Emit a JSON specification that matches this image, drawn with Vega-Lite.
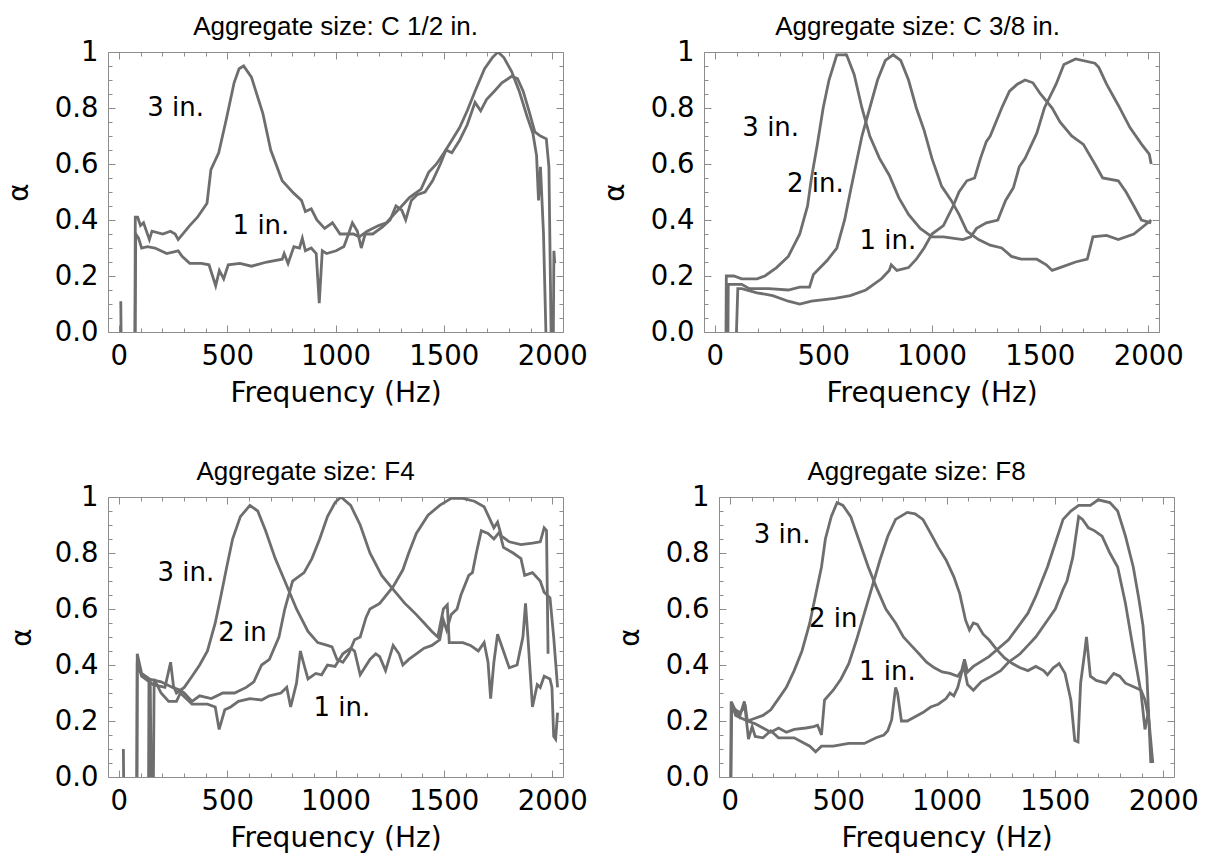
{
"$schema": "https://vega.github.io/schema/vega-lite/v6.json",
"background": "white",
"padding": {"left": 4, "top": 13, "right": 5, "bottom": 5},
"config": {
  "font": "DejaVu Sans",
  "view": {"stroke": "#8c8c8c", "strokeWidth": 1},
  "axis": {"domain": false, "grid": false, "labelFont": "DejaVu Sans", "labelFontSize": 27.5, "labelColor": "#000", "titleFont": "DejaVu Sans", "titleFontSize": 28, "titleFontWeight": "normal", "titleColor": "#000", "tickColor": "#8c8c8c", "tickWidth": 1, "labelOverlap": false, "labelFlush": false, "labelBound": false},
  "title": {"font": "Liberation Sans", "fontSize": 26, "fontWeight": "normal", "color": "#000", "anchor": "middle", "baseline": "alphabetic", "offset": -2}
},
"datasets": {
"p1": [
{"f":9,"a":0.11,"s":"1 in."},{"f":11,"a":-0.06,"s":"1 in."},{"f":75,"a":-0.06,"s":"1 in."},{"f":78,"a":0.35,"s":"1 in."},{"f":91,"a":0.335,"s":"1 in."},{"f":105,"a":0.30,"s":"1 in."},{"f":132,"a":0.305,"s":"1 in."},{"f":167,"a":0.30,"s":"1 in."},{"f":221,"a":0.28,"s":"1 in."},{"f":274,"a":0.29,"s":"1 in."},{"f":292,"a":0.27,"s":"1 in."},{"f":327,"a":0.245,"s":"1 in."},{"f":381,"a":0.245,"s":"1 in."},{"f":416,"a":0.24,"s":"1 in."},{"f":447,"a":0.165,"s":"1 in."},{"f":464,"a":0.22,"s":"1 in."},{"f":484,"a":0.19,"s":"1 in."},{"f":505,"a":0.24,"s":"1 in."},{"f":559,"a":0.245,"s":"1 in."},{"f":612,"a":0.235,"s":"1 in."},{"f":683,"a":0.25,"s":"1 in."},{"f":754,"a":0.26,"s":"1 in."},{"f":763,"a":0.28,"s":"1 in."},{"f":781,"a":0.245,"s":"1 in."},{"f":808,"a":0.305,"s":"1 in."},{"f":834,"a":0.30,"s":"1 in."},{"f":847,"a":0.335,"s":"1 in."},{"f":861,"a":0.29,"s":"1 in."},{"f":888,"a":0.30,"s":"1 in."},{"f":911,"a":0.28,"s":"1 in."},{"f":925,"a":0.103,"s":"1 in."},{"f":939,"a":0.29,"s":"1 in."},{"f":959,"a":0.28,"s":"1 in."},{"f":1003,"a":0.29,"s":"1 in."},{"f":1039,"a":0.305,"s":"1 in."},{"f":1060,"a":0.35,"s":"1 in."},{"f":1078,"a":0.39,"s":"1 in."},{"f":1101,"a":0.36,"s":"1 in."},{"f":1119,"a":0.30,"s":"1 in."},{"f":1137,"a":0.35,"s":"1 in."},{"f":1172,"a":0.35,"s":"1 in."},{"f":1217,"a":0.375,"s":"1 in."},{"f":1252,"a":0.40,"s":"1 in."},{"f":1279,"a":0.45,"s":"1 in."},{"f":1306,"a":0.435,"s":"1 in."},{"f":1324,"a":0.40,"s":"1 in."},{"f":1350,"a":0.47,"s":"1 in."},{"f":1377,"a":0.49,"s":"1 in."},{"f":1413,"a":0.50,"s":"1 in."},{"f":1448,"a":0.54,"s":"1 in."},{"f":1484,"a":0.60,"s":"1 in."},{"f":1510,"a":0.65,"s":"1 in."},{"f":1537,"a":0.64,"s":"1 in."},{"f":1573,"a":0.685,"s":"1 in."},{"f":1608,"a":0.74,"s":"1 in."},{"f":1644,"a":0.82,"s":"1 in."},{"f":1670,"a":0.79,"s":"1 in."},{"f":1697,"a":0.83,"s":"1 in."},{"f":1733,"a":0.86,"s":"1 in."},{"f":1768,"a":0.89,"s":"1 in."},{"f":1813,"a":0.913,"s":"1 in."},{"f":1840,"a":0.905,"s":"1 in."},{"f":1866,"a":0.86,"s":"1 in."},{"f":1893,"a":0.79,"s":"1 in."},{"f":1920,"a":0.715,"s":"1 in."},{"f":1946,"a":0.70,"s":"1 in."},{"f":1973,"a":0.69,"s":"1 in."},{"f":1985,"a":0.59,"s":"1 in."},{"f":1996,"a":-0.06,"s":"1 in."},{"f":2005,"a":-0.06,"s":"1 in."},{"f":2008,"a":0.29,"s":"1 in."},{"f":2012,"a":0.245,"s":"1 in."},
{"f":74,"a":-0.06,"s":"3 in."},{"f":76,"a":0.41,"s":"3 in."},{"f":87,"a":0.41,"s":"3 in."},{"f":100,"a":0.38,"s":"3 in."},{"f":114,"a":0.39,"s":"3 in."},{"f":141,"a":0.33,"s":"3 in."},{"f":153,"a":0.36,"s":"3 in."},{"f":203,"a":0.35,"s":"3 in."},{"f":238,"a":0.36,"s":"3 in."},{"f":260,"a":0.35,"s":"3 in."},{"f":274,"a":0.33,"s":"3 in."},{"f":327,"a":0.38,"s":"3 in."},{"f":363,"a":0.41,"s":"3 in."},{"f":407,"a":0.46,"s":"3 in."},{"f":425,"a":0.58,"s":"3 in."},{"f":461,"a":0.64,"s":"3 in."},{"f":496,"a":0.76,"s":"3 in."},{"f":532,"a":0.89,"s":"3 in."},{"f":555,"a":0.94,"s":"3 in."},{"f":576,"a":0.95,"s":"3 in."},{"f":612,"a":0.91,"s":"3 in."},{"f":665,"a":0.78,"s":"3 in."},{"f":701,"a":0.65,"s":"3 in."},{"f":754,"a":0.54,"s":"3 in."},{"f":808,"a":0.495,"s":"3 in."},{"f":843,"a":0.47,"s":"3 in."},{"f":861,"a":0.43,"s":"3 in."},{"f":888,"a":0.44,"s":"3 in."},{"f":914,"a":0.40,"s":"3 in."},{"f":950,"a":0.37,"s":"3 in."},{"f":986,"a":0.39,"s":"3 in."},{"f":1021,"a":0.35,"s":"3 in."},{"f":1048,"a":0.35,"s":"3 in."},{"f":1083,"a":0.35,"s":"3 in."},{"f":1110,"a":0.34,"s":"3 in."},{"f":1146,"a":0.36,"s":"3 in."},{"f":1199,"a":0.38,"s":"3 in."},{"f":1235,"a":0.39,"s":"3 in."},{"f":1270,"a":0.42,"s":"3 in."},{"f":1306,"a":0.45,"s":"3 in."},{"f":1341,"a":0.48,"s":"3 in."},{"f":1395,"a":0.51,"s":"3 in."},{"f":1430,"a":0.57,"s":"3 in."},{"f":1466,"a":0.60,"s":"3 in."},{"f":1501,"a":0.64,"s":"3 in."},{"f":1537,"a":0.685,"s":"3 in."},{"f":1573,"a":0.73,"s":"3 in."},{"f":1608,"a":0.79,"s":"3 in."},{"f":1644,"a":0.86,"s":"3 in."},{"f":1688,"a":0.94,"s":"3 in."},{"f":1724,"a":0.98,"s":"3 in."},{"f":1750,"a":1.0,"s":"3 in."},{"f":1777,"a":0.98,"s":"3 in."},{"f":1813,"a":0.93,"s":"3 in."},{"f":1848,"a":0.86,"s":"3 in."},{"f":1884,"a":0.77,"s":"3 in."},{"f":1911,"a":0.71,"s":"3 in."},{"f":1928,"a":0.63,"s":"3 in."},{"f":1937,"a":0.47,"s":"3 in."},{"f":1946,"a":0.59,"s":"3 in."},{"f":1960,"a":0.35,"s":"3 in."},{"f":1973,"a":-0.06,"s":"3 in."}
],
"p1lab": [{"f":262,"a":0.80,"t":"3 in."},{"f":656,"a":0.38,"t":"1 in."}],
"p2": [
{"f":51,"a":-0.07,"s":"3 in."},{"f":53,"a":0.20,"s":"3 in."},{"f":88,"a":0.20,"s":"3 in."},{"f":124,"a":0.19,"s":"3 in."},{"f":195,"a":0.19,"s":"3 in."},{"f":231,"a":0.20,"s":"3 in."},{"f":285,"a":0.23,"s":"3 in."},{"f":339,"a":0.27,"s":"3 in."},{"f":392,"a":0.35,"s":"3 in."},{"f":428,"a":0.45,"s":"3 in."},{"f":446,"a":0.55,"s":"3 in."},{"f":473,"a":0.67,"s":"3 in."},{"f":500,"a":0.80,"s":"3 in."},{"f":527,"a":0.90,"s":"3 in."},{"f":563,"a":0.99,"s":"3 in."},{"f":608,"a":0.99,"s":"3 in."},{"f":643,"a":0.92,"s":"3 in."},{"f":679,"a":0.80,"s":"3 in."},{"f":715,"a":0.70,"s":"3 in."},{"f":760,"a":0.62,"s":"3 in."},{"f":805,"a":0.56,"s":"3 in."},{"f":849,"a":0.48,"s":"3 in."},{"f":894,"a":0.42,"s":"3 in."},{"f":948,"a":0.37,"s":"3 in."},{"f":1002,"a":0.34,"s":"3 in."},{"f":1055,"a":0.34,"s":"3 in."},{"f":1145,"a":0.33,"s":"3 in."},{"f":1181,"a":0.34,"s":"3 in."},{"f":1208,"a":0.37,"s":"3 in."},{"f":1253,"a":0.39,"s":"3 in."},{"f":1306,"a":0.40,"s":"3 in."},{"f":1342,"a":0.47,"s":"3 in."},{"f":1378,"a":0.515,"s":"3 in."},{"f":1405,"a":0.59,"s":"3 in."},{"f":1432,"a":0.62,"s":"3 in."},{"f":1486,"a":0.71,"s":"3 in."},{"f":1521,"a":0.80,"s":"3 in."},{"f":1575,"a":0.885,"s":"3 in."},{"f":1611,"a":0.955,"s":"3 in."},{"f":1665,"a":0.975,"s":"3 in."},{"f":1754,"a":0.96,"s":"3 in."},{"f":1772,"a":0.945,"s":"3 in."},{"f":1808,"a":0.885,"s":"3 in."},{"f":1862,"a":0.81,"s":"3 in."},{"f":1916,"a":0.73,"s":"3 in."},{"f":1970,"a":0.67,"s":"3 in."},{"f":2005,"a":0.635,"s":"3 in."},{"f":2014,"a":0.60,"s":"3 in."},
{"f":60,"a":-0.07,"s":"2 in."},{"f":62,"a":0.17,"s":"2 in."},{"f":124,"a":0.17,"s":"2 in."},{"f":159,"a":0.155,"s":"2 in."},{"f":249,"a":0.155,"s":"2 in."},{"f":339,"a":0.15,"s":"2 in."},{"f":392,"a":0.16,"s":"2 in."},{"f":437,"a":0.16,"s":"2 in."},{"f":455,"a":0.205,"s":"2 in."},{"f":518,"a":0.255,"s":"2 in."},{"f":563,"a":0.30,"s":"2 in."},{"f":599,"a":0.40,"s":"2 in."},{"f":625,"a":0.50,"s":"2 in."},{"f":652,"a":0.60,"s":"2 in."},{"f":679,"a":0.70,"s":"2 in."},{"f":715,"a":0.80,"s":"2 in."},{"f":751,"a":0.90,"s":"2 in."},{"f":787,"a":0.97,"s":"2 in."},{"f":823,"a":0.99,"s":"2 in."},{"f":858,"a":0.97,"s":"2 in."},{"f":894,"a":0.90,"s":"2 in."},{"f":930,"a":0.80,"s":"2 in."},{"f":966,"a":0.72,"s":"2 in."},{"f":1002,"a":0.62,"s":"2 in."},{"f":1047,"a":0.52,"s":"2 in."},{"f":1091,"a":0.47,"s":"2 in."},{"f":1127,"a":0.42,"s":"2 in."},{"f":1163,"a":0.36,"s":"2 in."},{"f":1217,"a":0.33,"s":"2 in."},{"f":1271,"a":0.31,"s":"2 in."},{"f":1324,"a":0.30,"s":"2 in."},{"f":1369,"a":0.27,"s":"2 in."},{"f":1414,"a":0.26,"s":"2 in."},{"f":1486,"a":0.26,"s":"2 in."},{"f":1530,"a":0.24,"s":"2 in."},{"f":1557,"a":0.22,"s":"2 in."},{"f":1593,"a":0.23,"s":"2 in."},{"f":1665,"a":0.25,"s":"2 in."},{"f":1719,"a":0.26,"s":"2 in."},{"f":1745,"a":0.34,"s":"2 in."},{"f":1808,"a":0.345,"s":"2 in."},{"f":1862,"a":0.33,"s":"2 in."},{"f":1934,"a":0.35,"s":"2 in."},{"f":2014,"a":0.40,"s":"2 in."},
{"f":97,"a":-0.07,"s":"1 in."},{"f":106,"a":0.155,"s":"1 in."},{"f":124,"a":0.155,"s":"1 in."},{"f":195,"a":0.14,"s":"1 in."},{"f":267,"a":0.13,"s":"1 in."},{"f":339,"a":0.11,"s":"1 in."},{"f":392,"a":0.10,"s":"1 in."},{"f":446,"a":0.11,"s":"1 in."},{"f":554,"a":0.12,"s":"1 in."},{"f":625,"a":0.13,"s":"1 in."},{"f":697,"a":0.15,"s":"1 in."},{"f":733,"a":0.17,"s":"1 in."},{"f":769,"a":0.19,"s":"1 in."},{"f":805,"a":0.22,"s":"1 in."},{"f":814,"a":0.24,"s":"1 in."},{"f":840,"a":0.22,"s":"1 in."},{"f":894,"a":0.23,"s":"1 in."},{"f":930,"a":0.26,"s":"1 in."},{"f":966,"a":0.30,"s":"1 in."},{"f":1002,"a":0.35,"s":"1 in."},{"f":1055,"a":0.38,"s":"1 in."},{"f":1100,"a":0.45,"s":"1 in."},{"f":1127,"a":0.50,"s":"1 in."},{"f":1163,"a":0.54,"s":"1 in."},{"f":1199,"a":0.55,"s":"1 in."},{"f":1226,"a":0.62,"s":"1 in."},{"f":1253,"a":0.68,"s":"1 in."},{"f":1271,"a":0.70,"s":"1 in."},{"f":1324,"a":0.80,"s":"1 in."},{"f":1360,"a":0.86,"s":"1 in."},{"f":1396,"a":0.885,"s":"1 in."},{"f":1432,"a":0.90,"s":"1 in."},{"f":1468,"a":0.89,"s":"1 in."},{"f":1503,"a":0.85,"s":"1 in."},{"f":1557,"a":0.80,"s":"1 in."},{"f":1593,"a":0.75,"s":"1 in."},{"f":1647,"a":0.70,"s":"1 in."},{"f":1701,"a":0.67,"s":"1 in."},{"f":1754,"a":0.60,"s":"1 in."},{"f":1790,"a":0.55,"s":"1 in."},{"f":1862,"a":0.54,"s":"1 in."},{"f":1898,"a":0.50,"s":"1 in."},{"f":1934,"a":0.45,"s":"1 in."},{"f":1969,"a":0.40,"s":"1 in."},{"f":2014,"a":0.39,"s":"1 in."}
],
"p2lab": [{"f":258,"a":0.73,"t":"3 in."},{"f":464,"a":0.53,"t":"2 in."},{"f":799,"a":0.325,"t":"1 in."}],
"p3": [
{"f":83,"a":-0.07,"s":"3 in."},{"f":85,"a":0.41,"s":"3 in."},{"f":105,"a":0.36,"s":"3 in."},{"f":159,"a":0.33,"s":"3 in."},{"f":213,"a":0.32,"s":"3 in."},{"f":239,"a":0.41,"s":"3 in."},{"f":252,"a":0.325,"s":"3 in."},{"f":266,"a":0.30,"s":"3 in."},{"f":302,"a":0.32,"s":"3 in."},{"f":338,"a":0.36,"s":"3 in."},{"f":373,"a":0.40,"s":"3 in."},{"f":409,"a":0.45,"s":"3 in."},{"f":445,"a":0.55,"s":"3 in."},{"f":472,"a":0.65,"s":"3 in."},{"f":498,"a":0.75,"s":"3 in."},{"f":525,"a":0.85,"s":"3 in."},{"f":561,"a":0.93,"s":"3 in."},{"f":605,"a":0.97,"s":"3 in."},{"f":641,"a":0.95,"s":"3 in."},{"f":677,"a":0.88,"s":"3 in."},{"f":722,"a":0.78,"s":"3 in."},{"f":766,"a":0.70,"s":"3 in."},{"f":820,"a":0.60,"s":"3 in."},{"f":873,"a":0.52,"s":"3 in."},{"f":918,"a":0.48,"s":"3 in."},{"f":963,"a":0.47,"s":"3 in."},{"f":984,"a":0.465,"s":"3 in."},{"f":1007,"a":0.42,"s":"3 in."},{"f":1034,"a":0.41,"s":"3 in."},{"f":1061,"a":0.44,"s":"3 in."},{"f":1088,"a":0.49,"s":"3 in."},{"f":1114,"a":0.50,"s":"3 in."},{"f":1141,"a":0.57,"s":"3 in."},{"f":1159,"a":0.60,"s":"3 in."},{"f":1204,"a":0.62,"s":"3 in."},{"f":1266,"a":0.68,"s":"3 in."},{"f":1311,"a":0.74,"s":"3 in."},{"f":1338,"a":0.80,"s":"3 in."},{"f":1373,"a":0.87,"s":"3 in."},{"f":1427,"a":0.935,"s":"3 in."},{"f":1481,"a":0.97,"s":"3 in."},{"f":1534,"a":0.995,"s":"3 in."},{"f":1588,"a":0.995,"s":"3 in."},{"f":1641,"a":0.985,"s":"3 in."},{"f":1686,"a":0.965,"s":"3 in."},{"f":1713,"a":0.92,"s":"3 in."},{"f":1731,"a":0.89,"s":"3 in."},{"f":1748,"a":0.91,"s":"3 in."},{"f":1766,"a":0.86,"s":"3 in."},{"f":1802,"a":0.84,"s":"3 in."},{"f":1856,"a":0.83,"s":"3 in."},{"f":1909,"a":0.835,"s":"3 in."},{"f":1945,"a":0.84,"s":"3 in."},{"f":1963,"a":0.89,"s":"3 in."},{"f":1974,"a":0.88,"s":"3 in."},{"f":1981,"a":0.44,"s":"3 in."},
{"f":83,"a":-0.07,"s":"2 in."},{"f":85,"a":0.44,"s":"2 in."},{"f":105,"a":0.37,"s":"2 in."},{"f":141,"a":0.35,"s":"2 in."},{"f":195,"a":0.34,"s":"2 in."},{"f":248,"a":0.32,"s":"2 in."},{"f":284,"a":0.31,"s":"2 in."},{"f":302,"a":0.30,"s":"2 in."},{"f":338,"a":0.27,"s":"2 in."},{"f":373,"a":0.29,"s":"2 in."},{"f":427,"a":0.28,"s":"2 in."},{"f":480,"a":0.30,"s":"2 in."},{"f":534,"a":0.30,"s":"2 in."},{"f":588,"a":0.32,"s":"2 in."},{"f":623,"a":0.34,"s":"2 in."},{"f":659,"a":0.40,"s":"2 in."},{"f":695,"a":0.42,"s":"2 in."},{"f":739,"a":0.50,"s":"2 in."},{"f":766,"a":0.60,"s":"2 in."},{"f":802,"a":0.70,"s":"2 in."},{"f":855,"a":0.73,"s":"2 in."},{"f":891,"a":0.78,"s":"2 in."},{"f":927,"a":0.85,"s":"2 in."},{"f":963,"a":0.93,"s":"2 in."},{"f":998,"a":0.98,"s":"2 in."},{"f":1025,"a":1.0,"s":"2 in."},{"f":1070,"a":0.97,"s":"2 in."},{"f":1114,"a":0.90,"s":"2 in."},{"f":1159,"a":0.80,"s":"2 in."},{"f":1213,"a":0.72,"s":"2 in."},{"f":1266,"a":0.67,"s":"2 in."},{"f":1320,"a":0.62,"s":"2 in."},{"f":1347,"a":0.60,"s":"2 in."},{"f":1373,"a":0.58,"s":"2 in."},{"f":1409,"a":0.55,"s":"2 in."},{"f":1445,"a":0.52,"s":"2 in."},{"f":1472,"a":0.50,"s":"2 in."},{"f":1498,"a":0.60,"s":"2 in."},{"f":1516,"a":0.615,"s":"2 in."},{"f":1525,"a":0.48,"s":"2 in."},{"f":1588,"a":0.48,"s":"2 in."},{"f":1623,"a":0.47,"s":"2 in."},{"f":1659,"a":0.45,"s":"2 in."},{"f":1686,"a":0.48,"s":"2 in."},{"f":1704,"a":0.41,"s":"2 in."},{"f":1716,"a":0.28,"s":"2 in."},{"f":1731,"a":0.41,"s":"2 in."},{"f":1748,"a":0.51,"s":"2 in."},{"f":1775,"a":0.45,"s":"2 in."},{"f":1802,"a":0.39,"s":"2 in."},{"f":1838,"a":0.40,"s":"2 in."},{"f":1865,"a":0.50,"s":"2 in."},{"f":1877,"a":0.62,"s":"2 in."},{"f":1888,"a":0.50,"s":"2 in."},{"f":1909,"a":0.25,"s":"2 in."},{"f":1931,"a":0.33,"s":"2 in."},{"f":1945,"a":0.32,"s":"2 in."},{"f":1963,"a":0.36,"s":"2 in."},{"f":1990,"a":0.35,"s":"2 in."},{"f":1999,"a":0.32,"s":"2 in."},{"f":2007,"a":0.145,"s":"2 in."},{"f":2016,"a":0.135,"s":"2 in."},{"f":2025,"a":0.23,"s":"2 in."},
{"f":21,"a":0.10,"s":"1 in."},{"f":23,"a":-0.07,"s":"1 in."},{"f":137,"a":-0.07,"s":"1 in."},{"f":139,"a":0.35,"s":"1 in."},{"f":145,"a":0.34,"s":"1 in."},{"f":150,"a":-0.07,"s":"1 in."},{"f":159,"a":-0.07,"s":"1 in."},{"f":163,"a":0.35,"s":"1 in."},{"f":195,"a":0.30,"s":"1 in."},{"f":230,"a":0.27,"s":"1 in."},{"f":266,"a":0.27,"s":"1 in."},{"f":284,"a":0.30,"s":"1 in."},{"f":338,"a":0.26,"s":"1 in."},{"f":409,"a":0.26,"s":"1 in."},{"f":445,"a":0.25,"s":"1 in."},{"f":463,"a":0.17,"s":"1 in."},{"f":489,"a":0.24,"s":"1 in."},{"f":516,"a":0.25,"s":"1 in."},{"f":552,"a":0.27,"s":"1 in."},{"f":605,"a":0.28,"s":"1 in."},{"f":659,"a":0.275,"s":"1 in."},{"f":695,"a":0.29,"s":"1 in."},{"f":748,"a":0.30,"s":"1 in."},{"f":775,"a":0.32,"s":"1 in."},{"f":793,"a":0.25,"s":"1 in."},{"f":820,"a":0.335,"s":"1 in."},{"f":838,"a":0.45,"s":"1 in."},{"f":855,"a":0.40,"s":"1 in."},{"f":873,"a":0.35,"s":"1 in."},{"f":909,"a":0.37,"s":"1 in."},{"f":936,"a":0.365,"s":"1 in."},{"f":963,"a":0.40,"s":"1 in."},{"f":998,"a":0.395,"s":"1 in."},{"f":1034,"a":0.44,"s":"1 in."},{"f":1070,"a":0.46,"s":"1 in."},{"f":1088,"a":0.45,"s":"1 in."},{"f":1114,"a":0.365,"s":"1 in."},{"f":1159,"a":0.42,"s":"1 in."},{"f":1186,"a":0.44,"s":"1 in."},{"f":1204,"a":0.43,"s":"1 in."},{"f":1231,"a":0.38,"s":"1 in."},{"f":1266,"a":0.47,"s":"1 in."},{"f":1293,"a":0.44,"s":"1 in."},{"f":1311,"a":0.40,"s":"1 in."},{"f":1338,"a":0.42,"s":"1 in."},{"f":1373,"a":0.44,"s":"1 in."},{"f":1409,"a":0.46,"s":"1 in."},{"f":1445,"a":0.47,"s":"1 in."},{"f":1481,"a":0.49,"s":"1 in."},{"f":1498,"a":0.56,"s":"1 in."},{"f":1513,"a":0.525,"s":"1 in."},{"f":1534,"a":0.58,"s":"1 in."},{"f":1561,"a":0.60,"s":"1 in."},{"f":1579,"a":0.65,"s":"1 in."},{"f":1615,"a":0.72,"s":"1 in."},{"f":1632,"a":0.73,"s":"1 in."},{"f":1650,"a":0.80,"s":"1 in."},{"f":1673,"a":0.88,"s":"1 in."},{"f":1704,"a":0.87,"s":"1 in."},{"f":1731,"a":0.85,"s":"1 in."},{"f":1757,"a":0.875,"s":"1 in."},{"f":1775,"a":0.82,"s":"1 in."},{"f":1820,"a":0.80,"s":"1 in."},{"f":1856,"a":0.78,"s":"1 in."},{"f":1873,"a":0.72,"s":"1 in."},{"f":1909,"a":0.73,"s":"1 in."},{"f":1945,"a":0.70,"s":"1 in."},{"f":1963,"a":0.66,"s":"1 in."},{"f":1990,"a":0.64,"s":"1 in."},{"f":2007,"a":0.50,"s":"1 in."},{"f":2025,"a":0.32,"s":"1 in."}
],
"p3lab": [{"f":309,"a":0.727,"t":"3 in."},{"f":571,"a":0.514,"t":"2 in"},{"f":1029,"a":0.247,"t":"1 in."}],
"p4": [
{"f":4,"a":-0.06,"s":"3 in."},{"f":6,"a":0.27,"s":"3 in."},{"f":18,"a":0.24,"s":"3 in."},{"f":27,"a":0.22,"s":"3 in."},{"f":81,"a":0.20,"s":"3 in."},{"f":117,"a":0.21,"s":"3 in."},{"f":153,"a":0.22,"s":"3 in."},{"f":189,"a":0.24,"s":"3 in."},{"f":225,"a":0.28,"s":"3 in."},{"f":261,"a":0.32,"s":"3 in."},{"f":297,"a":0.38,"s":"3 in."},{"f":333,"a":0.45,"s":"3 in."},{"f":369,"a":0.55,"s":"3 in."},{"f":396,"a":0.65,"s":"3 in."},{"f":423,"a":0.75,"s":"3 in."},{"f":441,"a":0.85,"s":"3 in."},{"f":468,"a":0.93,"s":"3 in."},{"f":495,"a":0.98,"s":"3 in."},{"f":522,"a":0.97,"s":"3 in."},{"f":558,"a":0.93,"s":"3 in."},{"f":594,"a":0.85,"s":"3 in."},{"f":639,"a":0.75,"s":"3 in."},{"f":675,"a":0.68,"s":"3 in."},{"f":720,"a":0.60,"s":"3 in."},{"f":765,"a":0.55,"s":"3 in."},{"f":801,"a":0.50,"s":"3 in."},{"f":837,"a":0.47,"s":"3 in."},{"f":873,"a":0.44,"s":"3 in."},{"f":908,"a":0.41,"s":"3 in."},{"f":944,"a":0.39,"s":"3 in."},{"f":980,"a":0.375,"s":"3 in."},{"f":1016,"a":0.37,"s":"3 in."},{"f":1052,"a":0.36,"s":"3 in."},{"f":1070,"a":0.38,"s":"3 in."},{"f":1083,"a":0.42,"s":"3 in."},{"f":1097,"a":0.375,"s":"3 in."},{"f":1124,"a":0.395,"s":"3 in."},{"f":1196,"a":0.43,"s":"3 in."},{"f":1286,"a":0.49,"s":"3 in."},{"f":1376,"a":0.585,"s":"3 in."},{"f":1412,"a":0.645,"s":"3 in."},{"f":1466,"a":0.75,"s":"3 in."},{"f":1502,"a":0.835,"s":"3 in."},{"f":1538,"a":0.92,"s":"3 in."},{"f":1574,"a":0.95,"s":"3 in."},{"f":1610,"a":0.97,"s":"3 in."},{"f":1664,"a":0.97,"s":"3 in."},{"f":1700,"a":0.99,"s":"3 in."},{"f":1754,"a":0.98,"s":"3 in."},{"f":1790,"a":0.95,"s":"3 in."},{"f":1826,"a":0.86,"s":"3 in."},{"f":1862,"a":0.75,"s":"3 in."},{"f":1889,"a":0.63,"s":"3 in."},{"f":1907,"a":0.54,"s":"3 in."},{"f":1925,"a":0.36,"s":"3 in."},{"f":1943,"a":0.05,"s":"3 in."},
{"f":18,"a":0.245,"s":"2 in."},{"f":45,"a":0.23,"s":"2 in."},{"f":72,"a":0.25,"s":"2 in."},{"f":81,"a":0.20,"s":"2 in."},{"f":117,"a":0.19,"s":"2 in."},{"f":153,"a":0.175,"s":"2 in."},{"f":189,"a":0.16,"s":"2 in."},{"f":225,"a":0.175,"s":"2 in."},{"f":261,"a":0.16,"s":"2 in."},{"f":297,"a":0.17,"s":"2 in."},{"f":351,"a":0.175,"s":"2 in."},{"f":387,"a":0.18,"s":"2 in."},{"f":405,"a":0.185,"s":"2 in."},{"f":423,"a":0.15,"s":"2 in."},{"f":437,"a":0.275,"s":"2 in."},{"f":477,"a":0.31,"s":"2 in."},{"f":513,"a":0.35,"s":"2 in."},{"f":549,"a":0.405,"s":"2 in."},{"f":585,"a":0.49,"s":"2 in."},{"f":621,"a":0.585,"s":"2 in."},{"f":657,"a":0.68,"s":"2 in."},{"f":693,"a":0.775,"s":"2 in."},{"f":729,"a":0.86,"s":"2 in."},{"f":765,"a":0.92,"s":"2 in."},{"f":819,"a":0.945,"s":"2 in."},{"f":855,"a":0.94,"s":"2 in."},{"f":891,"a":0.92,"s":"2 in."},{"f":927,"a":0.87,"s":"2 in."},{"f":962,"a":0.82,"s":"2 in."},{"f":998,"a":0.775,"s":"2 in."},{"f":1034,"a":0.715,"s":"2 in."},{"f":1061,"a":0.655,"s":"2 in."},{"f":1088,"a":0.56,"s":"2 in."},{"f":1106,"a":0.525,"s":"2 in."},{"f":1124,"a":0.55,"s":"2 in."},{"f":1142,"a":0.545,"s":"2 in."},{"f":1169,"a":0.51,"s":"2 in."},{"f":1196,"a":0.49,"s":"2 in."},{"f":1232,"a":0.455,"s":"2 in."},{"f":1268,"a":0.425,"s":"2 in."},{"f":1304,"a":0.405,"s":"2 in."},{"f":1340,"a":0.39,"s":"2 in."},{"f":1376,"a":0.38,"s":"2 in."},{"f":1412,"a":0.395,"s":"2 in."},{"f":1448,"a":0.38,"s":"2 in."},{"f":1466,"a":0.365,"s":"2 in."},{"f":1493,"a":0.39,"s":"2 in."},{"f":1520,"a":0.405,"s":"2 in."},{"f":1547,"a":0.37,"s":"2 in."},{"f":1574,"a":0.275,"s":"2 in."},{"f":1592,"a":0.13,"s":"2 in."},{"f":1607,"a":0.125,"s":"2 in."},{"f":1619,"a":0.335,"s":"2 in."},{"f":1637,"a":0.44,"s":"2 in."},{"f":1646,"a":0.50,"s":"2 in."},{"f":1664,"a":0.36,"s":"2 in."},{"f":1691,"a":0.345,"s":"2 in."},{"f":1736,"a":0.335,"s":"2 in."},{"f":1772,"a":0.37,"s":"2 in."},{"f":1799,"a":0.36,"s":"2 in."},{"f":1826,"a":0.335,"s":"2 in."},{"f":1871,"a":0.32,"s":"2 in."},{"f":1898,"a":0.31,"s":"2 in."},{"f":1916,"a":0.275,"s":"2 in."},{"f":1934,"a":0.205,"s":"2 in."},{"f":1952,"a":0.05,"s":"2 in."},
{"f":4,"a":-0.06,"s":"1 in."},{"f":9,"a":0.265,"s":"1 in."},{"f":27,"a":0.235,"s":"1 in."},{"f":45,"a":0.215,"s":"1 in."},{"f":67,"a":0.27,"s":"1 in."},{"f":86,"a":0.135,"s":"1 in."},{"f":103,"a":0.18,"s":"1 in."},{"f":117,"a":0.145,"s":"1 in."},{"f":153,"a":0.14,"s":"1 in."},{"f":189,"a":0.165,"s":"1 in."},{"f":225,"a":0.14,"s":"1 in."},{"f":297,"a":0.14,"s":"1 in."},{"f":369,"a":0.11,"s":"1 in."},{"f":396,"a":0.09,"s":"1 in."},{"f":423,"a":0.11,"s":"1 in."},{"f":477,"a":0.11,"s":"1 in."},{"f":549,"a":0.12,"s":"1 in."},{"f":621,"a":0.12,"s":"1 in."},{"f":675,"a":0.14,"s":"1 in."},{"f":711,"a":0.15,"s":"1 in."},{"f":729,"a":0.165,"s":"1 in."},{"f":747,"a":0.205,"s":"1 in."},{"f":765,"a":0.32,"s":"1 in."},{"f":774,"a":0.30,"s":"1 in."},{"f":792,"a":0.20,"s":"1 in."},{"f":819,"a":0.20,"s":"1 in."},{"f":855,"a":0.215,"s":"1 in."},{"f":891,"a":0.23,"s":"1 in."},{"f":927,"a":0.25,"s":"1 in."},{"f":962,"a":0.26,"s":"1 in."},{"f":998,"a":0.28,"s":"1 in."},{"f":1016,"a":0.30,"s":"1 in."},{"f":1034,"a":0.29,"s":"1 in."},{"f":1052,"a":0.32,"s":"1 in."},{"f":1079,"a":0.40,"s":"1 in."},{"f":1097,"a":0.33,"s":"1 in."},{"f":1124,"a":0.31,"s":"1 in."},{"f":1160,"a":0.34,"s":"1 in."},{"f":1196,"a":0.355,"s":"1 in."},{"f":1250,"a":0.38,"s":"1 in."},{"f":1286,"a":0.41,"s":"1 in."},{"f":1340,"a":0.44,"s":"1 in."},{"f":1376,"a":0.47,"s":"1 in."},{"f":1412,"a":0.50,"s":"1 in."},{"f":1466,"a":0.56,"s":"1 in."},{"f":1502,"a":0.60,"s":"1 in."},{"f":1538,"a":0.67,"s":"1 in."},{"f":1556,"a":0.70,"s":"1 in."},{"f":1583,"a":0.785,"s":"1 in."},{"f":1610,"a":0.93,"s":"1 in."},{"f":1628,"a":0.92,"s":"1 in."},{"f":1655,"a":0.89,"s":"1 in."},{"f":1682,"a":0.88,"s":"1 in."},{"f":1718,"a":0.86,"s":"1 in."},{"f":1754,"a":0.80,"s":"1 in."},{"f":1790,"a":0.75,"s":"1 in."},{"f":1826,"a":0.62,"s":"1 in."},{"f":1862,"a":0.455,"s":"1 in."},{"f":1898,"a":0.30,"s":"1 in."},{"f":1916,"a":0.17,"s":"1 in."},{"f":1934,"a":0.24,"s":"1 in."}
],
"p4lab": [{"f":241,"a":0.863,"t":"3 in."},{"f":477,"a":0.566,"t":"2 in"},{"f":727,"a":0.376,"t":"1 in."}]
},
"spacing": 50,
"vconcat": [
{"hconcat": [
{"width": 455, "height": 280, "title": {"text": "Aggregate size: C 1/2 in."},
 "layer": [
  {"data": {"name": "p1"}, "mark": {"type": "line", "clip": true, "strokeWidth": 2.8},
   "encoding": {
    "x": {"field": "f", "type": "quantitative", "scale": {"domain": [-50, 2050], "nice": false, "zero": false},
          "axis": {"orient": "bottom", "values": [0,100,200,300,400,500,600,700,800,900,1000,1100,1200,1300,1400,1500,1600,1700,1800,1900,2000], "format": "d", "labelExpr": "datum.value % 500 === 0 ? datum.label : ''", "tickSize": {"condition": {"test": "datum.value % 500 === 0", "value": -7}, "value": -4}, "labelPadding": 17, "title": "Frequency (Hz)", "titlePadding": 7}},
    "y": {"field": "a", "type": "quantitative", "scale": {"domain": [0, 1], "nice": false, "zero": false},
          "axis": {"orient": "left", "values": [0,0.05,0.1,0.15,0.2,0.25,0.3,0.35,0.4,0.45,0.5,0.55,0.6,0.65,0.7,0.75,0.8,0.85,0.9,0.95,1], "labelExpr": "datum.value === 1 ? '1' : (abs(datum.value*5 - round(datum.value*5)) < 0.001 ? format(datum.value, '.1f') : '')", "tickSize": {"condition": {"test": "abs(datum.value*5 - round(datum.value*5)) < 0.001", "value": -7}, "value": -4}, "labelPadding": 17, "title": "α", "titlePadding": 21}},
    "color": {"field": "s", "type": "nominal", "scale": {"domain": ["1 in.", "3 in."], "range": ["#6e6e6e", "#6e6e6e"]}, "legend": null}
   }},
  {"data": {"name": "p1lab"}, "mark": {"type": "text", "fontSize": 26, "font": "DejaVu Sans", "color": "#000"},
   "encoding": {
    "x": {"field": "f", "type": "quantitative", "axis": {"orient": "top", "values": [0,100,200,300,400,500,600,700,800,900,1000,1100,1200,1300,1400,1500,1600,1700,1800,1900,2000], "labels": false, "title": null, "tickSize": {"condition": {"test": "datum.value % 500 === 0", "value": -7}, "value": -4}}},
    "y": {"field": "a", "type": "quantitative", "axis": {"orient": "right", "values": [0,0.05,0.1,0.15,0.2,0.25,0.3,0.35,0.4,0.45,0.5,0.55,0.6,0.65,0.7,0.75,0.8,0.85,0.9,0.95,1], "labels": false, "title": null, "tickSize": {"condition": {"test": "abs(datum.value*5 - round(datum.value*5)) < 0.001", "value": -7}, "value": -4}}},
    "text": {"field": "t"}
   }}
 ],
 "resolve": {"axis": {"x": "independent", "y": "independent"}}
},
{"width": 455, "height": 280, "title": {"text": "Aggregate size: C 3/8 in.", "dx": -14},
 "layer": [
  {"data": {"name": "p2"}, "mark": {"type": "line", "clip": true, "strokeWidth": 2.8},
   "encoding": {
    "x": {"field": "f", "type": "quantitative", "scale": {"domain": [-50, 2050], "nice": false, "zero": false},
          "axis": {"orient": "bottom", "values": [0,100,200,300,400,500,600,700,800,900,1000,1100,1200,1300,1400,1500,1600,1700,1800,1900,2000], "format": "d", "labelExpr": "datum.value % 500 === 0 ? datum.label : ''", "tickSize": {"condition": {"test": "datum.value % 500 === 0", "value": -7}, "value": -4}, "labelPadding": 17, "title": "Frequency (Hz)", "titlePadding": 7}},
    "y": {"field": "a", "type": "quantitative", "scale": {"domain": [0, 1], "nice": false, "zero": false},
          "axis": {"orient": "left", "values": [0,0.05,0.1,0.15,0.2,0.25,0.3,0.35,0.4,0.45,0.5,0.55,0.6,0.65,0.7,0.75,0.8,0.85,0.9,0.95,1], "labelExpr": "datum.value === 1 ? '1' : (abs(datum.value*5 - round(datum.value*5)) < 0.001 ? format(datum.value, '.1f') : '')", "tickSize": {"condition": {"test": "abs(datum.value*5 - round(datum.value*5)) < 0.001", "value": -7}, "value": -4}, "labelPadding": 17, "title": "α", "titlePadding": 21}},
    "color": {"field": "s", "type": "nominal", "scale": {"domain": ["1 in.", "2 in.", "3 in."], "range": ["#6a6a6a", "#3c3c3c", "#777777"]}, "legend": null}
   }},
  {"data": {"name": "p2lab"}, "mark": {"type": "text", "fontSize": 26, "font": "DejaVu Sans", "color": "#000"},
   "encoding": {
    "x": {"field": "f", "type": "quantitative", "axis": {"orient": "top", "values": [0,100,200,300,400,500,600,700,800,900,1000,1100,1200,1300,1400,1500,1600,1700,1800,1900,2000], "labels": false, "title": null, "tickSize": {"condition": {"test": "datum.value % 500 === 0", "value": -7}, "value": -4}}},
    "y": {"field": "a", "type": "quantitative", "axis": {"orient": "right", "values": [0,0.05,0.1,0.15,0.2,0.25,0.3,0.35,0.4,0.45,0.5,0.55,0.6,0.65,0.7,0.75,0.8,0.85,0.9,0.95,1], "labels": false, "title": null, "tickSize": {"condition": {"test": "abs(datum.value*5 - round(datum.value*5)) < 0.001", "value": -7}, "value": -4}}},
    "text": {"field": "t"}
   }}
 ],
 "resolve": {"axis": {"x": "independent", "y": "independent"}}
}
], "spacing": 12},
{"hconcat": [
{"width": 455, "height": 280, "title": {"text": "Aggregate size: F4", "dx": -30},
 "layer": [
  {"data": {"name": "p3"}, "mark": {"type": "line", "clip": true, "strokeWidth": 2.8},
   "encoding": {
    "x": {"field": "f", "type": "quantitative", "scale": {"domain": [-50, 2050], "nice": false, "zero": false},
          "axis": {"orient": "bottom", "values": [0,100,200,300,400,500,600,700,800,900,1000,1100,1200,1300,1400,1500,1600,1700,1800,1900,2000], "format": "d", "labelExpr": "datum.value % 500 === 0 ? datum.label : ''", "tickSize": {"condition": {"test": "datum.value % 500 === 0", "value": -7}, "value": -4}, "labelPadding": 17, "title": "Frequency (Hz)", "titlePadding": 7}},
    "y": {"field": "a", "type": "quantitative", "scale": {"domain": [0, 1], "nice": false, "zero": false},
          "axis": {"orient": "left", "values": [0,0.05,0.1,0.15,0.2,0.25,0.3,0.35,0.4,0.45,0.5,0.55,0.6,0.65,0.7,0.75,0.8,0.85,0.9,0.95,1], "labelExpr": "datum.value === 1 ? '1' : (abs(datum.value*5 - round(datum.value*5)) < 0.001 ? format(datum.value, '.1f') : '')", "tickSize": {"condition": {"test": "abs(datum.value*5 - round(datum.value*5)) < 0.001", "value": -7}, "value": -4}, "labelPadding": 17, "title": "α", "titlePadding": 18}},
    "color": {"field": "s", "type": "nominal", "scale": {"domain": ["1 in.", "2 in.", "3 in."], "range": ["#777777", "#444444", "#6e6e6e"]}, "legend": null}
   }},
  {"data": {"name": "p3lab"}, "mark": {"type": "text", "fontSize": 26, "font": "DejaVu Sans", "color": "#000"},
   "encoding": {
    "x": {"field": "f", "type": "quantitative", "axis": {"orient": "top", "values": [0,100,200,300,400,500,600,700,800,900,1000,1100,1200,1300,1400,1500,1600,1700,1800,1900,2000], "labels": false, "title": null, "tickSize": {"condition": {"test": "datum.value % 500 === 0", "value": -7}, "value": -4}}},
    "y": {"field": "a", "type": "quantitative", "axis": {"orient": "right", "values": [0,0.05,0.1,0.15,0.2,0.25,0.3,0.35,0.4,0.45,0.5,0.55,0.6,0.65,0.7,0.75,0.8,0.85,0.9,0.95,1], "labels": false, "title": null, "tickSize": {"condition": {"test": "abs(datum.value*5 - round(datum.value*5)) < 0.001", "value": -7}, "value": -4}}},
    "text": {"field": "t"}
   }}
 ],
 "resolve": {"axis": {"x": "independent", "y": "independent"}}
},
{"width": 455, "height": 280, "title": {"text": "Aggregate size: F8", "dx": -30},
 "layer": [
  {"data": {"name": "p4"}, "mark": {"type": "line", "clip": true, "strokeWidth": 2.8},
   "encoding": {
    "x": {"field": "f", "type": "quantitative", "scale": {"domain": [-50, 2050], "nice": false, "zero": false},
          "axis": {"orient": "bottom", "values": [0,100,200,300,400,500,600,700,800,900,1000,1100,1200,1300,1400,1500,1600,1700,1800,1900,2000], "format": "d", "labelExpr": "datum.value % 500 === 0 ? datum.label : ''", "tickSize": {"condition": {"test": "datum.value % 500 === 0", "value": -7}, "value": -4}, "labelPadding": 17, "title": "Frequency (Hz)", "titlePadding": 7}},
    "y": {"field": "a", "type": "quantitative", "scale": {"domain": [0, 1], "nice": false, "zero": false},
          "axis": {"orient": "left", "values": [0,0.05,0.1,0.15,0.2,0.25,0.3,0.35,0.4,0.45,0.5,0.55,0.6,0.65,0.7,0.75,0.8,0.85,0.9,0.95,1], "labelExpr": "datum.value === 1 ? '1' : (abs(datum.value*5 - round(datum.value*5)) < 0.001 ? format(datum.value, '.1f') : '')", "tickSize": {"condition": {"test": "abs(datum.value*5 - round(datum.value*5)) < 0.001", "value": -7}, "value": -4}, "labelPadding": 17, "title": "α", "titlePadding": 21}},
    "color": {"field": "s", "type": "nominal", "scale": {"domain": ["1 in.", "2 in.", "3 in."], "range": ["#777777", "#404040", "#6e6e6e"]}, "legend": null}
   }},
  {"data": {"name": "p4lab"}, "mark": {"type": "text", "fontSize": 26, "font": "DejaVu Sans", "color": "#000"},
   "encoding": {
    "x": {"field": "f", "type": "quantitative", "axis": {"orient": "top", "values": [0,100,200,300,400,500,600,700,800,900,1000,1100,1200,1300,1400,1500,1600,1700,1800,1900,2000], "labels": false, "title": null, "tickSize": {"condition": {"test": "datum.value % 500 === 0", "value": -7}, "value": -4}}},
    "y": {"field": "a", "type": "quantitative", "axis": {"orient": "right", "values": [0,0.05,0.1,0.15,0.2,0.25,0.3,0.35,0.4,0.45,0.5,0.55,0.6,0.65,0.7,0.75,0.8,0.85,0.9,0.95,1], "labels": false, "title": null, "tickSize": {"condition": {"test": "abs(datum.value*5 - round(datum.value*5)) < 0.001", "value": -7}, "value": -4}}},
    "text": {"field": "t"}
   }}
 ],
 "resolve": {"axis": {"x": "independent", "y": "independent"}}
}
], "spacing": 27}
]
}
